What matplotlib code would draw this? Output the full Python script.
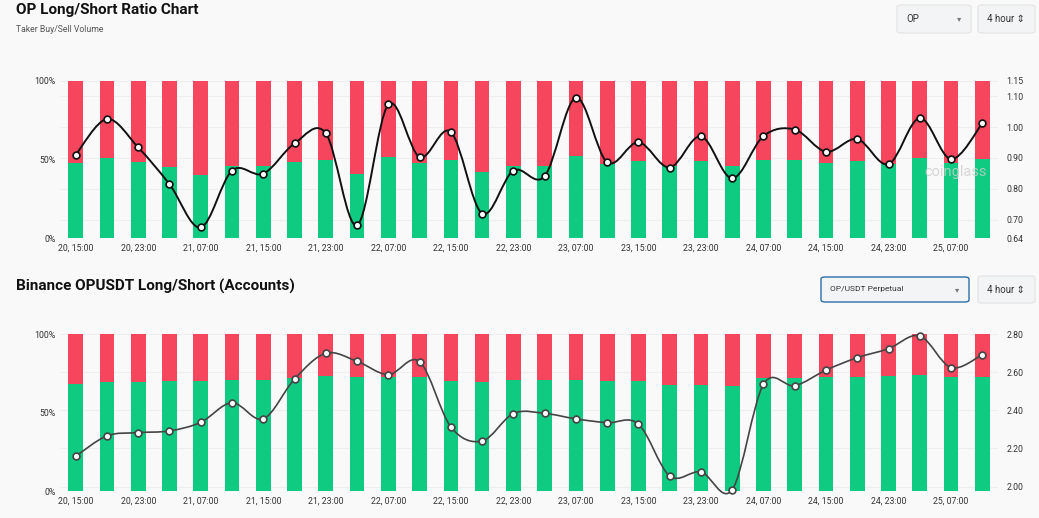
import matplotlib
matplotlib.use("Agg")
import matplotlib.pyplot as plt
from matplotlib import font_manager
from matplotlib.patches import FancyBboxPatch, PathPatch
from matplotlib.path import Path
import numpy as np

# --- datos ---
tick_labels = ["20, 15:00", "20, 23:00", "21, 07:00", "21, 15:00", "21, 23:00",
               "22, 07:00", "22, 15:00", "22, 23:00", "23, 07:00", "23, 15:00",
               "23, 23:00", "24, 07:00", "24, 15:00", "24, 23:00", "25, 07:00"]

# panel superior: taker buy/sell volume
taker_long = [47.6, 50.7, 48.2, 45.0, 40.2, 46.1, 45.9, 48.6, 49.7, 40.6,
              51.8, 47.6, 49.7, 41.9, 46.1, 45.9, 52.2, 46.9, 48.8, 45.9,
              49.3, 45.7, 49.7, 49.7, 48.0, 49.3, 47.1, 50.7, 47.6, 50.3]
taker_ratio = [0.910, 1.026, 0.934, 0.815, 0.675, 0.859, 0.849, 0.947, 0.980, 0.682,
               1.073, 0.903, 0.984, 0.720, 0.859, 0.841, 1.095, 0.886, 0.951, 0.869,
               0.970, 0.834, 0.971, 0.992, 0.920, 0.961, 0.880, 1.029, 0.896, 1.012]
taker_ticks = [0.64, 0.70, 0.80, 0.90, 1.00, 1.10, 1.15]

# panel inferior: cuentas binance
acc_long = [68.4, 69.4, 69.6, 69.9, 70.1, 70.7, 70.5, 72.0, 73.0, 72.4,
            72.4, 72.4, 69.9, 69.2, 70.5, 70.5, 70.5, 70.1, 70.1, 67.3,
            67.5, 66.7, 71.8, 71.8, 72.4, 72.6, 73.0, 73.7, 72.4, 72.8]
acc_ratio = [2.159, 2.266, 2.283, 2.292, 2.337, 2.440, 2.355, 2.564, 2.699, 2.657,
             2.587, 2.655, 2.313, 2.239, 2.383, 2.384, 2.355, 2.335, 2.328, 2.056,
             2.077, 1.984, 2.536, 2.529, 2.611, 2.676, 2.723, 2.790, 2.624, 2.692]
acc_ticks = [2.00, 2.20, 2.40, 2.60, 2.80]

VERDE = "#0fca81"
ROJO = "#f6465e"
FONDO = "#f9f9f9"

# fuente estrecha si existe, si no Roboto
try:
    font_manager.findfont(font_manager.FontProperties(family="Liberation Sans Narrow"),
                          fallback_to_default=False)
    TICK_FONT = ["Liberation Sans Narrow", "DejaVu Sans"]
    TICK_SIZE = 7
except Exception:
    TICK_FONT = ["Roboto", "DejaVu Sans"]
    TICK_SIZE = 6.3


def curva_suave(ax, xs, ys, color, lw):
    """Dibuja una curva Catmull-Rom como Bezier cubica (Path)"""
    xs = np.asarray(xs, float)
    ys = np.asarray(ys, float)
    verts = [(xs[0], ys[0])]
    codes = [Path.MOVETO]
    n = len(xs)
    for i in range(n - 1):
        x0, y0 = (xs[i - 1], ys[i - 1]) if i > 0 else (xs[i], ys[i])
        x1, y1 = xs[i], ys[i]
        x2, y2 = xs[i + 1], ys[i + 1]
        x3, y3 = (xs[i + 2], ys[i + 2]) if i + 2 < n else (x2, y2)
        c1 = (x1 + (x2 - x0) / 6, y1 + (y2 - y0) / 6)
        c2 = (x2 - (x3 - x1) / 6, y2 - (y3 - y1) / 6)
        verts += [c1, c2, (x2, y2)]
        codes += [Path.CURVE4] * 3
    ax.add_patch(PathPatch(Path(verts, codes), fill=False, edgecolor=color,
                           lw=lw, zorder=4, capstyle="round", joinstyle="round",
                           clip_on=False))


def panel(ax, longs, ratios, rticks, rlim, line_color, lw):
    x = np.arange(len(longs))
    longs = np.asarray(longs)
    ax.set_facecolor(FONDO)
    ax.bar(x, longs, width=0.47, color=VERDE, zorder=2)
    ax.bar(x, 100 - longs, bottom=longs, width=0.47, color=ROJO, zorder=2)
    ax.set_xlim(-0.5, len(longs) - 0.5)
    ax.set_ylim(0, 100)
    ax.set_yticks([0, 50, 100])
    ax.set_yticklabels(["0%", "50%", "100%"])
    ax.set_xticks(x[::2])
    ax.set_xticklabels(tick_labels)
    for s in ax.spines.values():
        s.set_visible(False)
    ax.tick_params(length=0, labelsize=TICK_SIZE, colors="#333333", pad=4)
    ax.tick_params(axis="y", pad=3)
    for lab in ax.get_xticklabels() + ax.get_yticklabels():
        lab.set_family(TICK_FONT)

    ax2 = ax.twinx()
    ax2.set_ylim(*rlim)
    ax2.set_yticks(rticks)
    ax2.set_yticklabels([f"{t:.2f}" for t in rticks])
    # lineas guia muy suaves detras de las barras
    for t in rticks:
        ax.axhline((t - rlim[0]) / (rlim[1] - rlim[0]) * 100, color="#ededed",
                   lw=0.6, zorder=0)
    for s in ax2.spines.values():
        s.set_visible(False)
    ax2.tick_params(length=0, labelsize=TICK_SIZE, colors="#333333", pad=6)
    for lab in ax2.get_yticklabels():
        lab.set_family(TICK_FONT)
    curva_suave(ax2, x, ratios, line_color, lw)
    ax2.scatter(x, ratios, s=24, facecolor="white", edgecolor=line_color,
                linewidth=1.2, zorder=5, clip_on=False)
    ax.set_zorder(ax2.get_zorder() - 1)
    ax2.patch.set_visible(False)
    return ax2


def caja(fig, x0, y0, w, h, texto, flecha, borde="#e6e6e6", fs=7):
    W, H = 1039, 518
    fig.patches.append(FancyBboxPatch((x0 / W, 1 - (y0 + h) / H), w / W, h / H,
                                      boxstyle="round,pad=0,rounding_size=0.004",
                                      transform=fig.transFigure, facecolor="#f2f4f5",
                                      edgecolor=borde, lw=1.0))
    fig.text((x0 + 9) / W, 1 - (y0 + h / 2) / H, texto, fontsize=fs, color="#333333",
             va="center", ha="left", family=["Roboto", "DejaVu Sans"])
    if flecha:
        fig.text((x0 + w - 12) / W, 1 - (y0 + h / 2) / H, "▾", fontsize=6,
                 color="#777777", va="center", ha="center", family="DejaVu Sans")


fig = plt.figure(figsize=(10.39, 5.18), dpi=100)
fig.patch.set_facecolor(FONDO)

ax_top = fig.add_axes([0.0578, 0.540, 0.9027, 0.3042])
ax_bot = fig.add_axes([0.0578, 0.0521, 0.9027, 0.3031])

panel(ax_top, taker_long, taker_ratio, taker_ticks, (0.64, 1.15), "#111111", 1.4)
panel(ax_bot, acc_long, acc_ratio, acc_ticks, (1.977, 2.80), "#444444", 1.2)

# marca de agua
ax_top.text(0.988, 0.42, "coinglass", transform=ax_top.transAxes, fontsize=10.5,
            color="#cfcfcf", alpha=0.8, ha="right", va="center", zorder=6,
            family=["Roboto", "DejaVu Sans"])

# titulos
fig.text(16 / 1039, 1 - 10 / 518, "OP Long/Short Ratio Chart", fontsize=11,
         fontweight="bold", va="center", ha="left", color="#111111",
         family=["Roboto", "DejaVu Sans"])
fig.text(16 / 1039, 1 - 30 / 518, "Taker Buy/Sell Volume", fontsize=6.2,
         va="center", ha="left", color="#555555", family=["Roboto", "DejaVu Sans"])
fig.text(16 / 1039, 1 - 286 / 518, "Binance OPUSDT Long/Short (Accounts)", fontsize=11,
         fontweight="bold", va="center", ha="left", color="#111111",
         family=["Roboto", "DejaVu Sans"])

# selectores
caja(fig, 897, 5, 74, 28, "OP", True)
caja(fig, 978, 5, 57, 28, "4 hour ⇕", False)
caja(fig, 821, 277, 148, 25, "OP/USDT Perpetual", True, borde="#2c6da8", fs=6)
caja(fig, 978, 276, 57, 27, "4 hour ⇕", False)

fig.savefig("out.png", dpi=100, facecolor=FONDO)
